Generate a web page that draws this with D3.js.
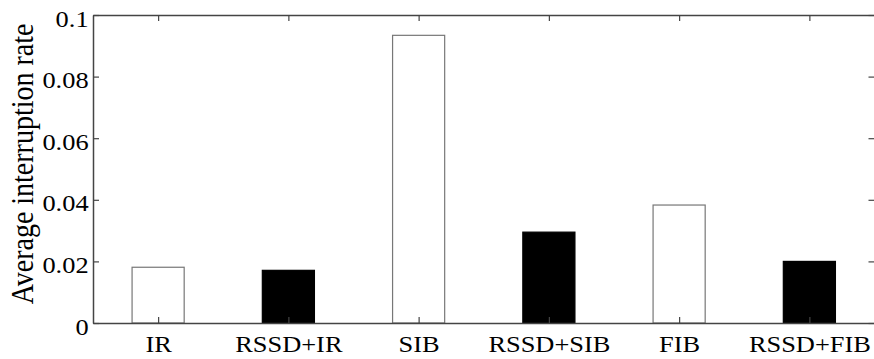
<!DOCTYPE html>
<html>
<head>
<meta charset="utf-8">
<script src="https://cdn.jsdelivr.net/npm/d3@7/dist/d3.min.js"></script>
<style>
  html, body { margin: 0; padding: 0; background: #fff; }
</style>
</head>
<body>
<svg id="chart" width="874" height="359"></svg>
<script>
// Average interruption rate per scheme
const categories = ["IR", "RSSD+IR", "SIB", "RSSD+SIB", "FIB", "RSSD+FIB"];
const rates = [0.0181, 0.0171, 0.0934, 0.0295, 0.0383, 0.0200];
const fills = ["#fff", "#000", "#fff", "#000", "#fff", "#000"];
const yTicks = [0, 0.02, 0.04, 0.06, 0.08, 0.1];
const yTickLabels = ["0", "0.02", "0.04", "0.06", "0.08", "0.1"];

const fontFamily = "'Liberation Serif', 'Times New Roman', Times, serif";
const svg = d3.select("#chart");
const plotLeft = 93, plotRight = 874.5, plotTop = 15, plotBottom = 323;
const axisColor = "#444";
const tickLen = 6;
const labelSize = 24, labelStretch = 1.1;

const x = d3.scaleLinear().domain([0.5, categories.length + 0.5]).range([plotLeft, plotRight]);
const y = d3.scaleLinear().domain([0, 0.1]).range([plotBottom, plotTop]);
const barW = (x(1) - x(0)) * 0.4;

// bars
svg.append("g").selectAll("rect")
  .data(rates)
  .join("rect")
  .attr("x", (d, i) => x(i + 1) - barW / 2)
  .attr("y", d => y(d))
  .attr("width", barW)
  .attr("height", d => y(0) - y(d))
  .attr("fill", (d, i) => fills[i])
  .attr("stroke", (d, i) => fills[i] === "#000" ? "#000" : "#777")
  .attr("stroke-width", 1.2);

// left axis with inward ticks
const yAxis = d3.axisLeft(y)
  .tickValues(yTicks)
  .tickFormat((d, i) => yTickLabels[i])
  .tickSizeInner(-tickLen)
  .tickSizeOuter(0)
  .tickPadding(4);
const gy = svg.append("g").attr("transform", `translate(${plotLeft},0)`).call(yAxis);
gy.selectAll("text")
  .style("font-size", labelSize + "px")
  .attr("dy", "0.46em")
  .attr("transform", `scale(${labelStretch},1)`);

// right axis mirror ticks
const yAxisR = d3.axisRight(y).tickValues(yTicks).tickFormat("")
  .tickSizeInner(-tickLen).tickSizeOuter(0);
const gyr = svg.append("g").attr("transform", `translate(${plotRight},0)`).call(yAxisR);

// bottom axis with category labels
const xAxis = d3.axisBottom(x)
  .tickValues(d3.range(1, categories.length + 1))
  .tickFormat((d) => categories[d - 1])
  .tickSizeInner(-tickLen)
  .tickSizeOuter(0)
  .tickPadding(0);
const gx = svg.append("g").attr("transform", `translate(0,${plotBottom})`).call(xAxis);
gx.selectAll("text")
  .style("font-size", labelSize + "px")
  .attr("y", 29)
  .attr("dy", 0)
  .attr("transform", `scale(${labelStretch},1)`);

// top axis mirror ticks
const xAxisT = d3.axisTop(x).tickValues(d3.range(1, categories.length + 1)).tickFormat("")
  .tickSizeInner(-tickLen).tickSizeOuter(0);
const gxt = svg.append("g").attr("transform", `translate(0,${plotTop})`).call(xAxisT);

[gy, gyr, gx, gxt].forEach(g => {
  g.attr("font-family", null).attr("font-size", null);
  g.selectAll(".domain").attr("stroke", axisColor).attr("stroke-width", 1.5);
  g.selectAll(".tick line").attr("stroke", axisColor).attr("stroke-width", 1.2);
});

// y axis title
svg.append("text")
  .attr("transform", `translate(33,164) scale(1.15,1) rotate(-90)`)
  .attr("text-anchor", "middle")
  .style("font-size", "28px")
  .text("Average interruption rate");

// apply the serif face to every label and settle layout
function applyFont() {
  svg.selectAll("text").style("font-family", fontFamily).attr("fill", "#000");
  svg.selectAll("text").each(function() { this.getBBox(); });
}
applyFont();
if (document.fonts) document.fonts.ready.then(applyFont);
</script>
</body>
</html>
